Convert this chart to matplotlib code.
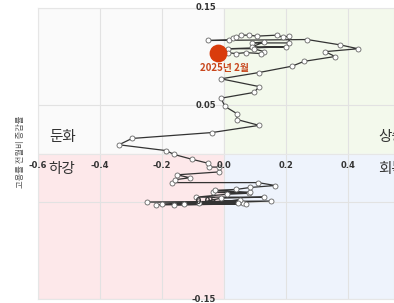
import matplotlib
matplotlib.use('Agg')
import matplotlib.pyplot as plt
from matplotlib.patches import Rectangle

plt.rcParams['font.family'] = ['Noto Sans CJK KR', 'DejaVu Sans']

# trajectory, oldest -> latest (last point = 2025년 2월)
x_vals = [
    -0.20, 0.06, -0.25, 0.15, -0.22, 0.07, -0.16, 0.05, -0.13, 0.045,
    -0.08, -0.01, 0.13, -0.09, 0.01, 0.08, -0.035, 0.085, -0.03, 0.04,
    0.085, 0.165, 0.11, -0.168, -0.158, -0.11, -0.152, -0.016, -0.016, -0.048,
    -0.052, -0.103, -0.161, -0.187, -0.339, -0.297, -0.039, 0.113, 0.042, 0.042,
    0.003, -0.01, 0.097, 0.113, -0.01, 0.113, 0.219, 0.258, 0.358, 0.326,
    0.432, 0.374, 0.268, -0.052, 0.015, 0.03, 0.04, 0.055, 0.08, 0.105,
    0.17, 0.19, 0.21, 0.21, 0.09, 0.13, 0.09, 0.20, 0.013, 0.095,
    0.13, 0.12, 0.07, 0.037, 0.013, -0.02,
]
y_vals = [
    -0.052, -0.051, -0.050, -0.049, -0.053, -0.052, -0.053, -0.048, -0.052, -0.051,
    -0.051, -0.046, -0.045, -0.045, -0.042, -0.041, -0.040, -0.040, -0.038, -0.037,
    -0.035, -0.033, -0.030, -0.030, -0.027, -0.025, -0.022, -0.019, -0.014, -0.014,
    -0.010, -0.006, -0.001, 0.003, 0.009, 0.0155, 0.0216, 0.029, 0.035, 0.041,
    0.0485, 0.057, 0.063, 0.069, 0.077, 0.0835, 0.090, 0.095, 0.100, 0.105,
    0.108, 0.112, 0.1175, 0.1165, 0.117, 0.119, 0.120, 0.122, 0.122, 0.121,
    0.122, 0.120, 0.121, 0.114, 0.114, 0.115, 0.110, 0.110, 0.108, 0.108,
    0.105, 0.103, 0.104, 0.103, 0.104, 0.104,
]

latest_label = '2025년 2월'
ylabel = '고용률 전월비 증감률'
quadrants = ['둔화', '하강', '상승', '회복']
xticks = [-0.6, -0.4, -0.2, 0.0, 0.2, 0.4]
yticks = [-0.15, -0.05, 0.05, 0.15]

fig = plt.figure(figsize=(3.94, 3.03), dpi=100)
ax = fig.add_axes([38 / 394, 4 / 303, 356 / 394, 291 / 303])
ax.set_xlim(-0.6, 0.548)
ax.set_ylim(-0.15, 0.15)

# quadrant backgrounds
ax.add_patch(Rectangle((-0.6, 0), 0.6, 0.15, color='#fafafa', zorder=0))
ax.add_patch(Rectangle((0, 0), 0.6, 0.15, color='#f3f9ec', zorder=0))
ax.add_patch(Rectangle((-0.6, -0.15), 0.6, 0.15, color='#fde8ea', zorder=0))
ax.add_patch(Rectangle((0, -0.15), 0.6, 0.15, color='#eef3fc', zorder=0))

for v in xticks:
    ax.axvline(v, color='#e2e2e2', lw=0.8, zorder=1)
for v in yticks:
    ax.axhline(v, color='#e2e2e2', lw=0.8, zorder=1)
ax.axhline(0, color='#e6e6e6', lw=0.8, zorder=1)

ax.set_xticks([])
ax.set_yticks([])
for s in ax.spines.values():
    s.set_color('#e6e6e6')
    s.set_linewidth(0.8)

# tick labels sit on the centre lines
for v in xticks:
    ax.text(v, -0.0125, f'{v:.1f}', ha='center', va='center', fontsize=6,
            fontweight='bold', color='#333333', family='DejaVu Sans', zorder=5)
for v in yticks:
    ax.text(-0.025, v, f'{v:.2f}', ha='right', va='center', fontsize=6,
            fontweight='bold', color='#333333', family='DejaVu Sans', zorder=5)

ax.plot(x_vals, y_vals, color='#333333', lw=0.9, marker='o', ms=3.6,
        mfc='white', mec='#666666', mew=0.6, zorder=3)
ax.scatter(x_vals[-1], y_vals[-1], s=140, color='#d93c0c', zorder=4)
ax.text(x_vals[-1] + 0.02, y_vals[-1] - 0.016, latest_label, ha='center', va='center',
        fontsize=7, fontweight='bold', color='#c8461c', zorder=5)

qx = [-0.565, -0.565, 0.497, 0.497]
qy = [0.0165, -0.016, 0.0165, -0.016]
for lab, px, py in zip(quadrants, qx, qy):
    ax.text(px, py, lab, ha='left', va='center', fontsize=10.5, color='#333333', zorder=5)

fig.text(20 / 394, 0.5, ylabel, rotation=90, ha='center', va='center',
         fontsize=6, color='#555555')

fig.savefig('out.png', dpi=100)
